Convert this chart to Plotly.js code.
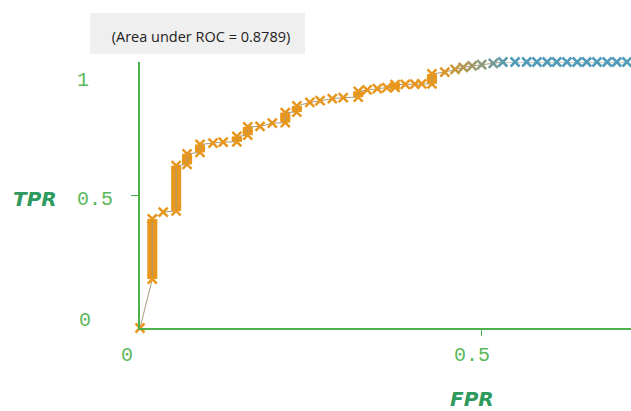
<!DOCTYPE html>
<html>
<head>
<meta charset="utf-8">
<script src="https://cdn.plot.ly/plotly-3.0.1.min.js"></script>
<style>html,body{margin:0;padding:0;background:#fff;}#chart{width:631px;height:411px;}</style>
</head>
<body>
<div id="chart"></div>
<script>
// ROC curve points (FPR, TPR)
const fpr = [0, 0.018, 0.018, 0.034, 0.053, 0.053, 0.069, 0.069, 0.088, 0.088, 0.107, 0.122,
  0.142, 0.142, 0.158, 0.158, 0.176, 0.194, 0.213, 0.213, 0.230, 0.230, 0.249, 0.264, 0.282, 0.298,
  0.320, 0.320, 0.333, 0.348, 0.362, 0.374, 0.374, 0.389, 0.403, 0.413, 0.428, 0.428,
  0.447, 0.462, 0.474, 0.487, 0.501, 0.518, 0.532, 0.550, 0.567, 0.582, 0.597, 0.611, 0.626,
  0.641, 0.655, 0.670, 0.685, 0.699, 0.714];
const tpr = [0, 0.184, 0.41, 0.436, 0.44, 0.61, 0.615, 0.655, 0.66, 0.69, 0.695, 0.699,
  0.70, 0.72, 0.725, 0.756, 0.758, 0.77, 0.772, 0.81, 0.812, 0.835, 0.848, 0.855, 0.862, 0.866,
  0.868, 0.89, 0.895, 0.90, 0.904, 0.905, 0.915, 0.916, 0.917, 0.918, 0.918, 0.955,
  0.962, 0.972, 0.98, 0.985, 0.99, 0.995, 1, 1, 1, 1, 1, 1, 1,
  1, 1, 1, 1, 1, 1];
// vertical runs of densely packed points
const barFpr  = [0.018, 0.053, 0.069, 0.088, 0.142, 0.158, 0.213, 0.230, 0.320, 0.374, 0.428];
const barLow  = [0.184, 0.44, 0.615, 0.66, 0.70, 0.725, 0.772, 0.812, 0.868, 0.905, 0.918];
const barHigh = [0.41, 0.61, 0.655, 0.69, 0.72, 0.756, 0.81, 0.835, 0.89, 0.915, 0.955];

const xTickLabels = ['0', '0.5'];
const yTickLabels = ['0', '0.5', '1'];

function colorFor(x) {
  const t = Math.max(0, Math.min(1, (x - 0.44) / 0.1));
  const a = [232, 150, 28], b = [80, 155, 185];
  const c = a.map((v, i) => Math.round(v + (b[i] - v) * t));
  return 'rgb(' + c.join(',') + ')';
}
const markerColors = fpr.map(colorFor);

const bx = [], by = [];
barFpr.forEach((x, i) => { bx.push(x, x, null); by.push(barLow[i], barHigh[i], null); });

const GREEN = '#4cb04c';
const W = 631, H = 411, L = 140, T = 62, B = 83;
const pw = W - L, ph = H - T - B;
const px = v => (v - L) / pw;
const py = v => (H - B - v) / ph;

const traces = [
  {
    x: bx, y: by, type: 'scatter', mode: 'lines', cliponaxis: false,
    line: {color: '#e8981e', width: 10}, hoverinfo: 'skip', showlegend: false
  },
  {
    x: fpr, y: tpr, type: 'scatter', mode: 'lines+markers', cliponaxis: false,
    line: {color: '#a89878', width: 1},
    marker: {symbol: 'x-thin', size: 9, color: markerColors,
             line: {width: 2.5, color: markerColors}},
    showlegend: false
  }
];

const tickFont = {family: 'Liberation Mono, monospace', size: 20, color: '#5cb85c'};
const titleFont = {family: 'DejaVu Sans', size: 20, color: '#2e9a5e', weight: 'bold', style: 'italic'};

const annotations = [
  {xref: 'paper', yref: 'paper', x: px(83), y: py(80), text: yTickLabels[2], showarrow: false, font: tickFont, xanchor: 'center', yanchor: 'middle'},
  {xref: 'paper', yref: 'paper', x: px(95), y: py(199), text: yTickLabels[1], showarrow: false, font: tickFont, xanchor: 'center', yanchor: 'middle'},
  {xref: 'paper', yref: 'paper', x: px(85), y: py(320), text: yTickLabels[0], showarrow: false, font: tickFont, xanchor: 'center', yanchor: 'middle'},
  {xref: 'paper', yref: 'paper', x: px(127), y: py(355), text: xTickLabels[0], showarrow: false, font: tickFont, xanchor: 'center', yanchor: 'middle'},
  {xref: 'paper', yref: 'paper', x: px(472), y: py(355), text: xTickLabels[1], showarrow: false, font: tickFont, xanchor: 'center', yanchor: 'middle'},
  {xref: 'paper', yref: 'paper', x: px(35), y: py(199), text: 'TPR', showarrow: false, font: titleFont, xanchor: 'center', yanchor: 'middle'},
  {xref: 'paper', yref: 'paper', x: px(472), y: py(399), text: 'FPR', showarrow: false, font: titleFont, xanchor: 'center', yanchor: 'middle'}
];

const layout = {
  width: W, height: H,
  margin: {l: L, r: 0, t: T, b: B, pad: 0},
  paper_bgcolor: '#ffffff', plot_bgcolor: '#ffffff',
  showlegend: false,
  title: {text: '(Area under ROC = 0.8789)', x: 201 / W, y: 1 - 37 / H, xanchor: 'center', yanchor: 'middle',
          font: {family: 'Open Sans, sans-serif', size: 14.5, color: '#222222'}},
  shapes: [
    {type: 'rect', xref: 'paper', yref: 'paper', x0: px(90), x1: px(305), y0: py(54), y1: py(13),
     fillcolor: '#efefef', line: {width: 0}, layer: 'below'}
  ],
  xaxis: {range: [0, pw / 682], showgrid: false, zeroline: false, showline: true, linecolor: GREEN, linewidth: 2,
          ticks: 'outside', tickvals: [0.5], ticklen: 6, tickwidth: 1, tickcolor: GREEN, showticklabels: false, fixedrange: true},
  yaxis: {range: [0, 1], showgrid: false, zeroline: false, showline: true, linecolor: GREEN, linewidth: 2,
          ticks: 'outside', tickvals: [0.5], ticklen: 7, tickwidth: 1, tickcolor: GREEN, showticklabels: false, fixedrange: true},
  annotations: annotations
};

Plotly.newPlot('chart', traces, layout, {displayModeBar: false, staticPlot: true});
</script>
</body>
</html>
